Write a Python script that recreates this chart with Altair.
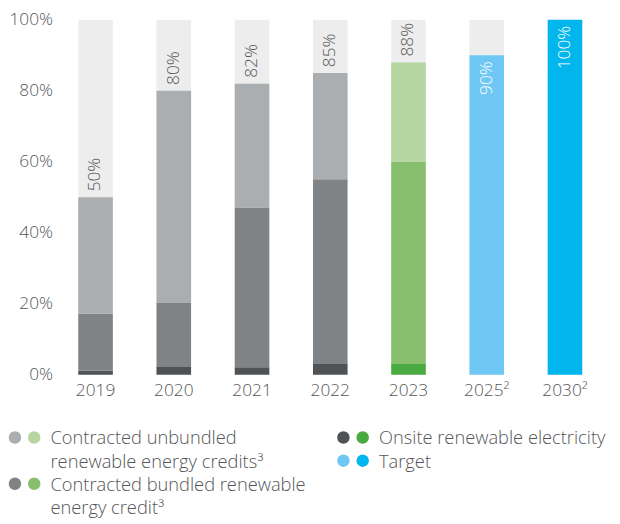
import altair as alt
import pandas as pd

# ---- data ----
years = ["2019", "2020", "2021", "2022", "2023", "2025²", "2030²"]
onsite = [1.1, 2.2, 2.1, 3.0, 3.0]          # 2019-2023
bundled = [16.1, 18.0, 45.0, 52.1, 57.1]     # 2019-2023
unbundled = [32.8, 59.8, 34.9, 29.9, 27.9]   # 2019-2023
target = [90, 100]                           # 2025, 2030
totals = [50, 80, 82, 85, 88, 90, 100]
palettes = ["gray", "gray", "gray", "gray", "green", "tlight", "tdark"]

legend_items = [
    (["Contracted unbundled", "renewable energy credits³"], "gray_unb", "green_unb", 0),
    (["Contracted bundled renewable", "energy credit³"], "gray_bun", "green_bun", 0),
    (["Onsite renewable electricity"], "gray_on", "green_on", 1),
    (["Target"], "tlight_t", "tdark_t", 1),
]

# ---- styles ----
color_map = {
    "gray_on": "#505355", "gray_bun": "#808386", "gray_unb": "#ABAEB1",
    "green_on": "#4AAA42", "green_bun": "#87BF6E", "green_unb": "#B5D6A0",
    "tlight_t": "#6EC8F3", "tdark_t": "#00B6ED",
}
TXT = "#555658"
FONT = "Open Sans"
FW = 300

# ---- tables ----
rows = []
for i in range(5):
    p = palettes[i]
    rows.append({"year": years[i], "key": f"{p}_on", "value": onsite[i], "ord": 0})
    rows.append({"year": years[i], "key": f"{p}_bun", "value": bundled[i], "ord": 1})
    rows.append({"year": years[i], "key": f"{p}_unb", "value": unbundled[i], "ord": 2})
for j, v in enumerate(target):
    i = 5 + j
    rows.append({"year": years[i], "key": f"{palettes[i]}_t", "value": v, "ord": 0})
seg = pd.DataFrame(rows)

bg = pd.DataFrame({"year": years, "value": [100] * len(years)})
lab = pd.DataFrame({"year": years, "total": totals,
                    "txt": [f"{t}%" for t in totals],
                    "inside": [p.startswith("t") for p in palettes]})

leg_rows, leg_dots = [], []
row_counter = {0: 0, 1: 0}
for lines, k1, k2, col in legend_items:
    r0 = row_counter[col]
    leg_dots.append({"col": col, "row": r0, "k1": k1, "k2": k2})
    for n, line in enumerate(lines):
        leg_rows.append({"col": col, "row": r0 + n, "line": line})
    row_counter[col] += len(lines)
leg_rows = pd.DataFrame(leg_rows)
leg_dots = pd.DataFrame(leg_dots)

keys = list(color_map.keys())
cscale = alt.Scale(domain=keys, range=[color_map[k] for k in keys])

xs = alt.Scale(domain=years, paddingInner=0.558, paddingOuter=0.279)
ys = alt.Scale(domain=[0, 100], nice=False)

base_x = alt.X("year:N", scale=xs, sort=years,
               axis=alt.Axis(title=None, labelAngle=0, domain=False, ticks=False,
                             labelFont=FONT, labelFontWeight=FW, labelFontSize=17.5,
                             labelColor=TXT, labelPadding=7))

bg_layer = alt.Chart(bg).mark_bar(color="#EDEDED").encode(
    x=base_x,
    y=alt.Y("value:Q", scale=ys,
            axis=alt.Axis(title=None, values=[0, 20, 40, 60, 80, 100],
                          labelExpr="datum.value + '%'", domain=False, ticks=False,
                          grid=False, labelFont=FONT, labelFontWeight=FW,
                          labelFontSize=17.5, labelColor=TXT, labelPadding=4)),
)

bar_layer = alt.Chart(seg).mark_bar().encode(
    x=alt.X("year:N", scale=xs, sort=years),
    y=alt.Y("value:Q", stack="zero", scale=ys),
    color=alt.Color("key:N", scale=cscale, legend=None),
    order=alt.Order("ord:Q"),
)

lab_out = alt.Chart(lab).transform_filter("!datum.inside").mark_text(
    angle=270, align="left", baseline="middle", dx=6,
    font=FONT, fontWeight=FW, fontSize=17.5, color=TXT,
).encode(x=alt.X("year:N", scale=xs, sort=years),
         y=alt.Y("total:Q", scale=ys), text="txt:N")

lab_in = alt.Chart(lab).transform_filter("datum.inside").mark_text(
    angle=270, align="right", baseline="middle", dx=-6,
    font=FONT, fontWeight=FW, fontSize=17.5, color="white",
).encode(x=alt.X("year:N", scale=xs, sort=years),
         y=alt.Y("total:Q", scale=ys), text="txt:N")

main = alt.layer(bg_layer, bar_layer, lab_out, lab_in)

# legend placed below the plot through its own scales (rows = text baselines)
lx = alt.Scale(domain=[0, 1], range=[-42, 290.3], zero=False, nice=False)
ly = alt.Scale(domain=[0, 3], range=[429.5, 499.7], zero=False, nice=False)

dot1 = alt.Chart(leg_dots).mark_circle(size=160, opacity=1).encode(
    x=alt.X("col:Q", scale=lx, axis=None),
    y=alt.Y("row:Q", scale=ly, axis=None),
    yOffset=alt.value(-7),
    color=alt.Color("k1:N", scale=cscale, legend=None),
)
dot2 = alt.Chart(leg_dots).mark_circle(size=160, opacity=1).encode(
    x=alt.X("col:Q", scale=lx, axis=None),
    y=alt.Y("row:Q", scale=ly, axis=None),
    xOffset=alt.value(19.5),
    yOffset=alt.value(-7),
    color=alt.Color("k2:N", scale=cscale, legend=None),
)
leg_txt = alt.Chart(leg_rows).mark_text(
    align="left", baseline="alphabetic", dx=36,
    font=FONT, fontWeight=FW, fontSize=18.5, color=TXT,
).encode(
    x=alt.X("col:Q", scale=lx, axis=None),
    y=alt.Y("row:Q", scale=ly, axis=None),
    text="line:N",
)
legend = alt.layer(dot1, dot2, leg_txt)

chart = alt.layer(main, legend).resolve_scale(
    x="independent", y="independent"
).properties(
    width=554, height=359,
    autosize=alt.AutoSizeParams(type="none"),
    padding={"left": 49, "top": 9, "right": 8, "bottom": 146},
).configure_view(stroke=None)

chart.save("out.html", embed_options={"renderer": "svg", "actions": False})
